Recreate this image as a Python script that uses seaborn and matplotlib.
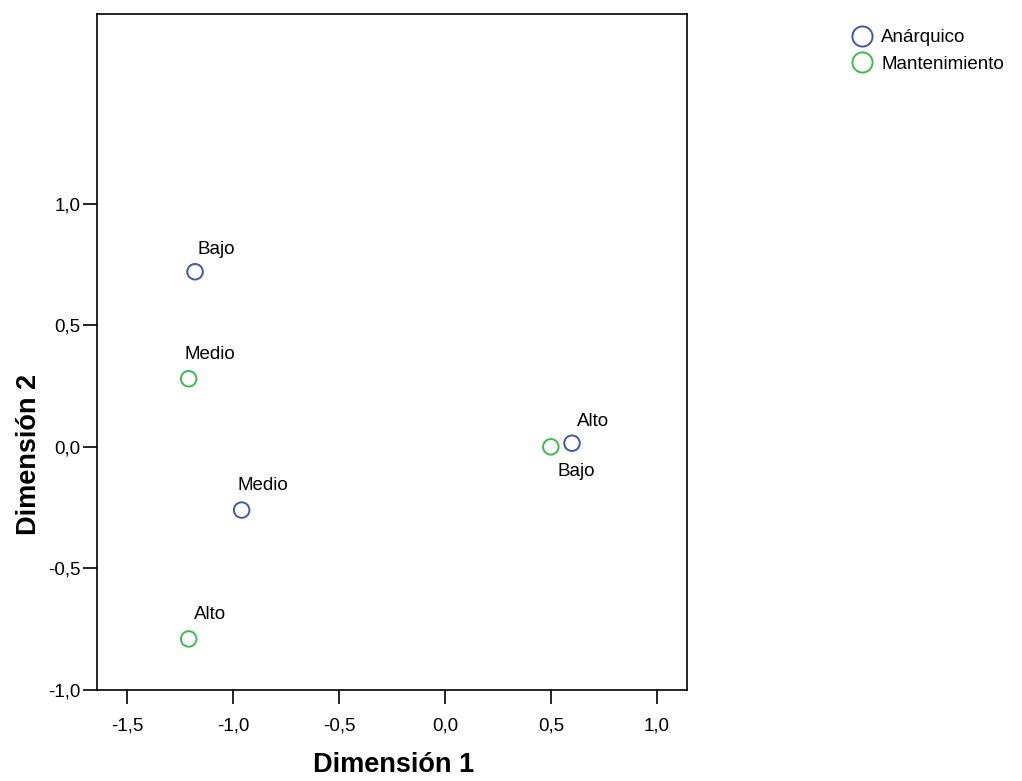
import matplotlib
matplotlib.use("Agg")
import matplotlib.pyplot as plt
from matplotlib.lines import Line2D
import seaborn as sns
import pandas as pd

sns.set_style("white")
plt.rcParams['font.family'] = ['Liberation Sans', 'DejaVu Sans']
plt.rcParams['text.color'] = 'black'
plt.rcParams['xtick.color'] = 'black'
plt.rcParams['ytick.color'] = 'black'
plt.rcParams['axes.labelcolor'] = 'black'

groups = ["Anárquico", "Anárquico", "Anárquico", "Mantenimiento", "Mantenimiento", "Mantenimiento"]
labels = ["Bajo", "Medio", "Alto", "Medio", "Alto", "Bajo"]
dim1 = [-1.18, -0.96, 0.60, -1.21, -1.21, 0.50]
dim2 = [0.72, -0.26, 0.015, 0.28, -0.79, 0.0]
label_dx = [0.01, -0.02, 0.025, -0.02, 0.025, 0.03]
label_dy = [0.09, 0.10, 0.09, 0.10, 0.10, -0.10]
xticks = [-1.5, -1.0, -0.5, 0.0, 0.5, 1.0]
yticks = [-1.0, -0.5, 0.0, 0.5, 1.0]
palette = {"Anárquico": "#3f58aa", "Mantenimiento": "#3cba4a"}

df = pd.DataFrame({"grupo": groups, "label": labels, "d1": dim1, "d2": dim2})

fig = plt.figure(figsize=(10.22, 7.81), dpi=100)
ax = fig.add_axes([97/1022, 1-690/781, 590/1022, 676/781])

for g in ["Anárquico", "Mantenimiento"]:
    sub = df[df.grupo == g]
    sns.scatterplot(data=sub, x="d1", y="d2", ax=ax, marker="o", s=125,
                    facecolors="none", edgecolor=palette[g], linewidth=1.4,
                    legend=False)

for lab, x, y, dx, dy in zip(labels, dim1, dim2, label_dx, label_dy):
    ax.text(x + dx, y + dy, lab, ha="left", va="center", fontsize=13.5, color="black")

ax.set_xlim(-1.643, 1.143)
ax.set_ylim(-1.0, 1.78)
ax.set_xticks(xticks)
ax.set_yticks(yticks)
ax.set_xticklabels([f"{v:.1f}".replace(".", ",") for v in xticks], fontsize=13.5)
ax.set_yticklabels([f"{v:.1f}".replace(".", ",") for v in yticks], fontsize=13.5)
ax.tick_params(axis="both", direction="out", length=10, width=1.2, color="black", left=True, bottom=True)
ax.tick_params(axis="x", pad=10)
ax.tick_params(axis="y", pad=2)
for s in ax.spines.values():
    s.set_color("black")
    s.set_linewidth(1.2)
ax.set_xlabel("Dimensión 1", fontsize=19.5, fontweight="bold")
ax.set_ylabel("Dimensión 2", fontsize=19.5, fontweight="bold")
ax.xaxis.label.set_va("center")
ax.xaxis.set_label_coords(0.502, (690 - 765) / 676)
ax.yaxis.label.set_ha("center")
ax.yaxis.label.set_va("center")
ax.yaxis.set_label_coords((29 - 97) / 590, (690 - 454) / 676)

handles = [Line2D([], [], marker="o", linestyle="none", markersize=14.5, markerfacecolor="none",
                  markeredgecolor=palette[g], markeredgewidth=1.4) for g in palette]
fig.legend(handles, list(palette.keys()), loc="upper left", bbox_to_anchor=(851/1022, 1-29/781),
           frameon=False, fontsize=13.5, handletextpad=0.4, labelspacing=0.5, borderaxespad=0,
           handlelength=1.2, borderpad=0)

fig.savefig("out.png", dpi=100)
